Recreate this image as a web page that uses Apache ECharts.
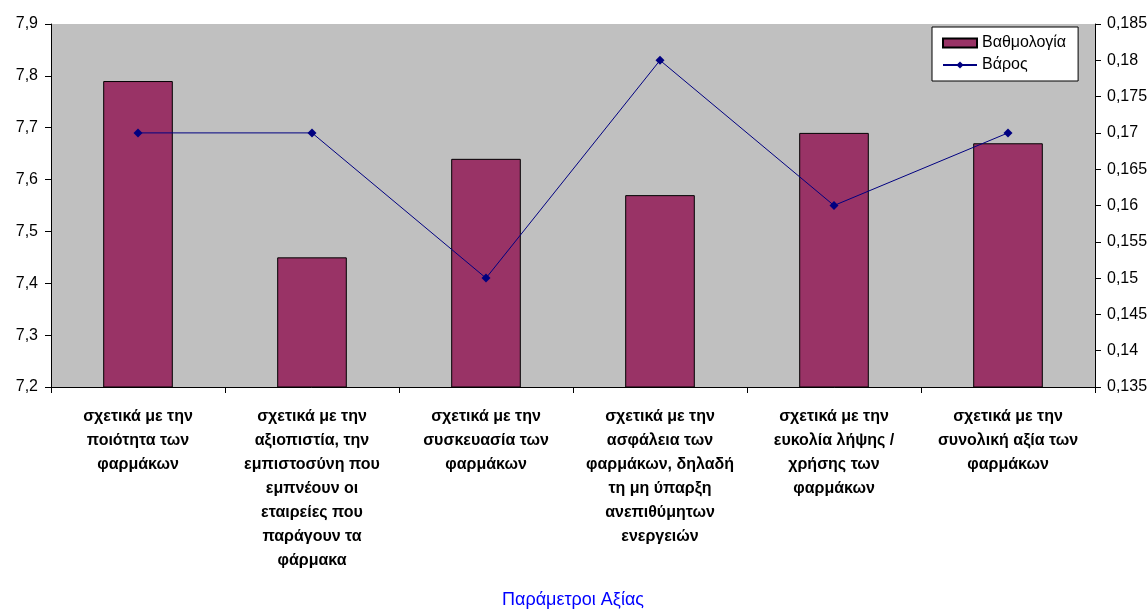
<!DOCTYPE html>
<html><head><meta charset="utf-8">
<script src="https://cdn.jsdelivr.net/npm/echarts@6/dist/echarts.min.js"></script>
<style>html,body{margin:0;padding:0;background:#fff}#c{width:1148px;height:611px}</style>
</head><body><div id="c"></div>
<script>
const categories = [
  "σχετικά με την\nποιότητα των\nφαρμάκων",
  "σχετικά με την\nαξιοπιστία, την\nεμπιστοσύνη που\nεμπνέουν οι\nεταιρείες που\nπαράγουν τα\nφάρμακα",
  "σχετικά με την\nσυσκευασία των\nφαρμάκων",
  "σχετικά με την\nασφάλεια των\nφαρμάκων, δηλαδή\nτη μη ύπαρξη\nανεπιθύμητων\nενεργειών",
  "σχετικά με την\nευκολία λήψης /\nχρήσης των\nφαρμάκων",
  "σχετικά με την\nσυνολική αξία των\nφαρμάκων"
];
const scores = [7.79, 7.45, 7.64, 7.57, 7.69, 7.67];
const weights = [0.17, 0.17, 0.15, 0.18, 0.16, 0.17];
const seriesNames = ["Βαθμολογία", "Βάρος"];
const xAxisTitle = "Παράμετροι Αξίας";

const FONT = "Liberation Sans, Arial, sans-serif";
const chart = echarts.init(document.getElementById('c'));
chart.setOption({
  animation: false,
  textStyle: { fontFamily: FONT },
  grid: { left: 51, right: 53, top: 24, bottom: 224, show: true, backgroundColor: '#C0C0C0', borderWidth: 0,
          outerBoundsMode: 'none', containLabel: false },
  legend: {
    orient: 'vertical', left: 932, top: 27,
    backgroundColor: '#fff', borderColor: '#000', borderWidth: 1,
    padding: [8, 12, 8, 10], itemGap: 6, itemWidth: 34, itemHeight: 9,
    textStyle: { fontSize: 16, color: '#000', fontFamily: FONT },
    data: [
      { name: seriesNames[0], icon: 'rect' },
      { name: seriesNames[1] }
    ]
  },
  xAxis: {
    type: 'category', data: categories,
    name: xAxisTitle, nameLocation: 'middle', nameGap: 204,
    nameTextStyle: { color: '#0000FF', fontSize: 18, fontFamily: FONT },
    axisLine: { lineStyle: { color: '#000', width: 1 } },
    axisTick: { show: true, length: 6, lineStyle: { color: '#000' } },
    axisLabel: { interval: 0, color: '#000', fontSize: 16, fontWeight: 'bold', lineHeight: 24, margin: 18, fontFamily: FONT, align: 'center' },
    splitLine: { show: false }
  },
  yAxis: [
    {
      type: 'value', min: 7.2, max: 7.9, interval: 0.1,
      axisLine: { show: true, lineStyle: { color: '#000' } },
      axisTick: { show: true, length: 6, lineStyle: { color: '#000' } },
      splitLine: { show: false },
      axisLabel: { color: '#000', fontSize: 16, margin: 13, fontFamily: FONT,
        formatter: v => v.toFixed(1).replace('.', ',') }
    },
    {
      type: 'value', min: 0.135, max: 0.185, interval: 0.005, position: 'right',
      axisLine: { show: true, lineStyle: { color: '#000' } },
      axisTick: { show: true, length: 6, lineStyle: { color: '#000' } },
      splitLine: { show: false },
      axisLabel: { color: '#000', fontSize: 16, margin: 12, fontFamily: FONT,
        formatter: v => String(Number(v.toFixed(3))).replace('.', ',') }
    }
  ],
  series: [
    {
      name: seriesNames[0], type: 'bar', data: scores, yAxisIndex: 0,
      barWidth: '40%',
      itemStyle: { color: '#993366', borderColor: '#000', borderWidth: 1 }
    },
    {
      name: seriesNames[1], type: 'line', data: weights, yAxisIndex: 1,
      symbol: 'diamond', symbolSize: 9,
      lineStyle: { color: '#000080', width: 1 },
      itemStyle: { color: '#000080' }
    }
  ]
});
</script>
</body></html>
